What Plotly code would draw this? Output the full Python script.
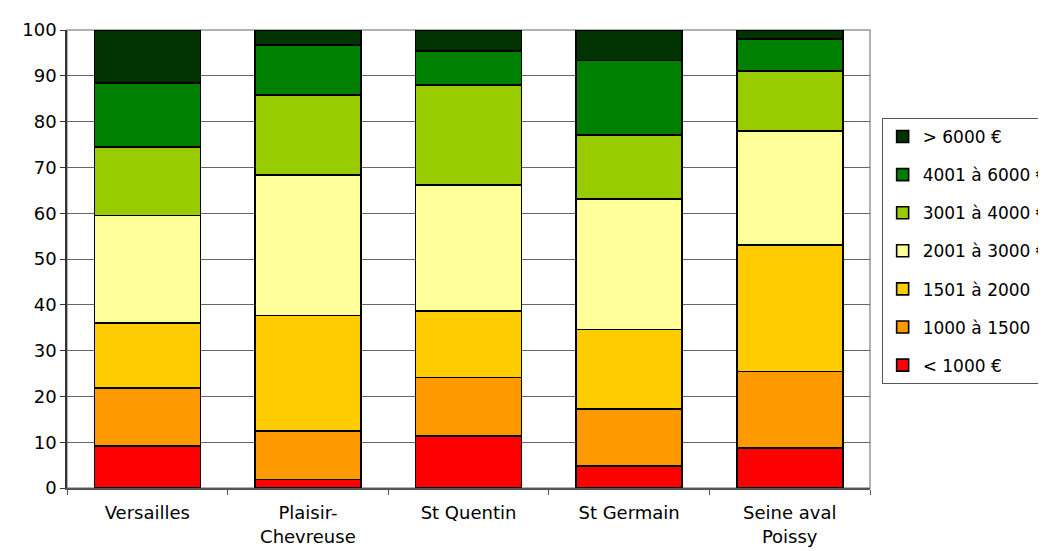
import plotly.graph_objects as go

categories = ["Versailles", "Plaisir-<br>Chevreuse", "St Quentin", "St Germain", "Seine aval<br>Poissy"]
series_names = ["< 1000 €", "1000 à 1500", "1501 à 2000", "2001 à 3000 €",
                "3001 à 4000 €", "4001 à 6000 €", "> 6000 €"]
lt1000 = [9.2, 1.9, 11.4, 4.8, 8.7]
s1000_1500 = [12.7, 10.5, 12.7, 12.4, 16.7]
s1501_2000 = [14.1, 25.3, 14.5, 17.4, 27.7]
s2001_3000 = [23.5, 30.7, 27.6, 28.5, 24.9]
s3001_4000 = [15.0, 17.4, 21.8, 14.0, 13.1]
s4001_6000 = [13.9, 10.9, 7.4, 16.2, 7.0]
gt6000 = [11.6, 3.3, 4.6, 6.7, 1.9]
values = [lt1000, s1000_1500, s1501_2000, s2001_3000, s3001_4000, s4001_6000, gt6000]
colors = ["#FF0000", "#FF9900", "#FFCC00", "#FFFF99", "#99CC00", "#008000", "#003300"]

FONT = "DejaVu Sans, Arial, sans-serif"

fig = go.Figure()
n = len(series_names)
for i, (name, vals, col) in enumerate(zip(series_names, values, colors)):
    fig.add_trace(go.Bar(
        x=categories, y=vals, name=name, legendgroup=f"g{n - i}", legendrank=n - i,
        marker=dict(color=col, line=dict(color="black", width=1.6)),
    ))

fig.update_layout(
    width=1046, height=551,
    barmode="stack", bargap=0.34,
    plot_bgcolor="white", paper_bgcolor="white",
    font=dict(family=FONT, size=18, color="black"),
    margin=dict(l=59, r=184, t=22, b=71, autoexpand=False),
    showlegend=True,
    legend=dict(
        x=1.0145, y=0.808, xanchor="left", yanchor="top",
        traceorder="grouped", tracegroupgap=13,
        bordercolor="#555555", borderwidth=1,
        font=dict(size=17, family=FONT),
    ),
    shapes=[dict(type="rect", xref="paper", yref="paper", x0=0, x1=1, y0=0, y1=1,
                 line=dict(color="#999999", width=1.5), layer="below")],
)
fig.update_yaxes(
    range=[0, 100], dtick=10, showgrid=True, gridcolor="#666666", gridwidth=1,
    showline=True, linecolor="#333333", linewidth=1.5,
    ticks="outside", ticklen=5, tickcolor="#333333", zeroline=False,
)
fig.update_xaxes(
    showline=True, linecolor="#555555", linewidth=1.5,
    ticks="outside", ticklen=5, tickcolor="#555555", tickson="boundaries",
    showgrid=False, ticklabelstandoff=8,
)

fig.write_html("out.html")
